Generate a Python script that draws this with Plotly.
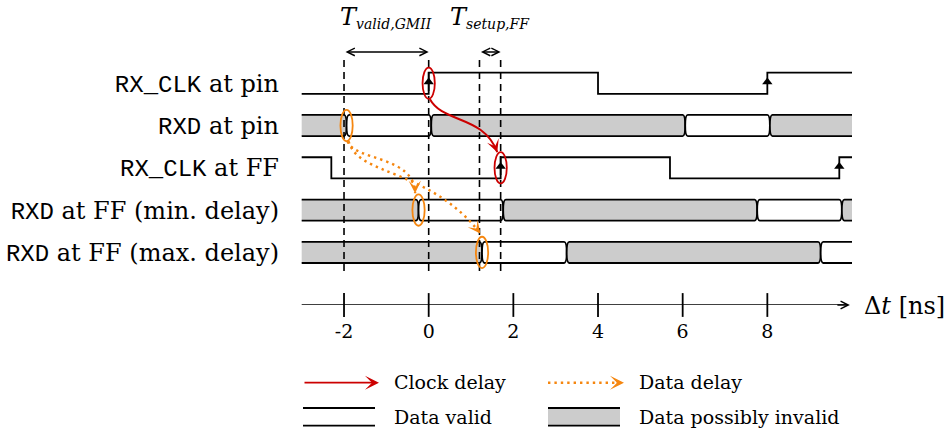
import math
import plotly.graph_objects as go

# ---------------- data ----------------
row_mono = ["RX_CLK", "RXD", "RX_CLK", "RXD", "RXD"]
row_rest = ["at pin", "at pin", "at FF", "at FF (min. delay)", "at FF (max. delay)"]

t_start, t_end = -3.0, 10.0

clk_pin_edges = [0.0, 4.0, 8.0]        # RX_CLK at pin, starts low
clk_pin_init = 0
clk_ff_edges = [-2.3, 1.7, 5.7, 9.7]   # RX_CLK at FF, starts high
clk_ff_init = 1

rxd_pin_trans = [-2.0, 0.0, 6.0, 8.0]  # RXD at pin transitions
rxd_min_trans = [-0.3, 1.7, 7.7, 9.7]  # RXD at FF, min delay
rxd_max_trans = [1.2, 3.2, 9.2]        # RXD at FF, max delay
trans_width = 0.12

ref_times = [-2.0, 0.0, 1.2, 1.7]
dim_names = ["valid,GMII", "setup,FF"]
dim_from = [-2.0, 1.2]
dim_to = [0.0, 1.7]

tick_vals = [-2, 0, 2, 4, 6, 8]
tick_text = ["-2", "0", "2", "4", "6", "8"]

# ---------------- style / layout ----------------
SERIF = "DejaVu Serif"
MONO = "Liberation Mono"
RED = "#cc0000"
ORANGE = "#f5860f"
GRAY = "#cccccc"
LW = 1.8
H = 0.25                     # half band height (rows)
X_RANGE = [-3.04, 10.0]
Y_RANGE = [5.243, -1.967]    # reversed: row 0 on top
AX_ROW = 5.243
W, HGT = 952, 431
ML, MR, MT, MB = 300, 100, 0, 126

def px(X):
    return (X - ML) / (W - ML - MR)

def py(Y):
    return 1 - (Y - MT) / (HGT - MT - MB)

fig = go.Figure()
shapes = []
annotations = []

# ---- clocks ----
def add_clock(edges, init, row):
    xs, ys = [t_start], []
    lvl = init
    ys.append(row - H if lvl else row + H)
    rising = []
    for e in edges:
        lvl = 1 - lvl
        xs.append(e)
        ys.append(row - H if lvl else row + H)
        if lvl == 1:
            rising.append(e)
    xs.append(t_end)
    ys.append(ys[-1])
    fig.add_trace(go.Scatter(x=xs, y=ys, mode="lines", line=dict(color="black", width=LW, shape="hv"),
                             hoverinfo="skip", showlegend=False))
    fig.add_trace(go.Scatter(x=rising, y=[row - 0.03] * len(rising), mode="markers",
                             marker=dict(symbol="triangle-up", size=9, color="black"),
                             hoverinfo="skip", showlegend=False))

add_clock(clk_pin_edges, clk_pin_init, 0)
add_clock(clk_ff_edges, clk_ff_init, 2)

# ---- data bands ----
def add_band(trans, row):
    h = trans_width / 2
    cs = [t + h for t in trans]
    bounds = [t_start] + cs + [t_end]
    top, bot, mid = row - H, row + H, row
    n = len(bounds) - 1
    for i in range(n):
        a, b = bounds[i], bounds[i + 1]
        invalid = (i % 2 == 0)
        if i == 0:
            p = (f"M{a},{top} L{b-h},{top} Q{b},{top} {b},{mid} Q{b},{bot} {b-h},{bot} L{a},{bot}")
        elif i == n - 1:
            p = (f"M{b},{top} L{a+h},{top} Q{a},{top} {a},{mid} Q{a},{bot} {a+h},{bot} L{b},{bot}")
        else:
            p = (f"M{a+h},{top} L{b-h},{top} Q{b},{top} {b},{mid} Q{b},{bot} {b-h},{bot} "
                 f"L{a+h},{bot} Q{a},{bot} {a},{mid} Q{a},{top} {a+h},{top} Z")
        shapes.append(dict(type="path", path=p, xref="x", yref="y",
                           fillcolor=GRAY if invalid else "white",
                           line=dict(color="black", width=LW)))

add_band(rxd_pin_trans, 1)
add_band(rxd_min_trans, 3)
add_band(rxd_max_trans, 4)

# ---- reference dashed lines ----
for t in ref_times:
    shapes.append(dict(type="line", xref="x", yref="y", x0=t, x1=t, y0=-0.55, y1=4.49,
                       line=dict(color="black", width=1.6, dash="7px,5px")))

# ---- dimension arrows + labels ----
for name, a, b in zip(dim_names, dim_from, dim_to):
    annotations.append(dict(x=b, y=-0.74, ax=a, ay=-0.74, xref="x", yref="y", axref="x", ayref="y",
                            text="", showarrow=True, arrowside="end+start", arrowhead=5, startarrowhead=5,
                            arrowsize=1, startarrowsize=1, arrowwidth=1.5, arrowcolor="black"))
    annotations.append(dict(x=(a + b) / 2, y=-1.55, xref="x", yref="y", showarrow=False,
                            text=f"<span style=\"font-size:24px\"><i>T</i></span><sub><i>{name}</i></sub>",
                            font=dict(family=SERIF, size=20, color="black")))

# ---- delay curves ----
def cubic_arrow(t0, r0, t1, r1, s_off, e_off, f1, f2, color, dash):
    sx, sy = t0 + s_off[0], r0 + s_off[1]
    ex, ey = t1 + e_off[0], r1 + e_off[1]
    dt, dr = t1 - t0, r1 - r0
    c1x, c1y = t0 + f1[0] * dt, r0 + f1[1] * dr
    c2x, c2y = t0 + f2[0] * dt, r0 + f2[1] * dr
    shapes.append(dict(type="path", xref="x", yref="y",
                       path=f"M{sx},{sy} C{c1x},{c1y} {c2x},{c2y} {ex},{ey}",
                       line=dict(color=color, width=2 if dash is None else 2.4, dash=dash or "solid")))
    vx, vy = (ex - c2x) * 42.33, (ey - c2y) * 42.3
    n = math.hypot(vx, vy)
    annotations.append(dict(x=ex, y=ey, xref="x", yref="y", ax=-vx / n * 7, ay=-vy / n * 7,
                            text="", showarrow=True, arrowhead=3, arrowsize=1.3, arrowwidth=1.6,
                            arrowcolor=color))

h0 = trans_width / 2
cubic_arrow(clk_pin_edges[0], 0, clk_ff_edges[1], 2, (0.03, 0.38), (-0.08, -0.37),
            (0.2, 0.475), (0.76, 0.375), RED, None)
cubic_arrow(rxd_pin_trans[0] + h0, 1, rxd_min_trans[0] + h0, 3, (0.02, 0.37), (-0.08, -0.4),
            (0.118, 0.425), (0.94, 0.35), ORANGE, "2.4px,4px")
cubic_arrow(rxd_pin_trans[0] + h0, 1, rxd_max_trans[0] + h0, 4, (0.05, 0.37), (-0.04, -0.45),
            (0.078, 0.4), (0.61, 0.333), ORANGE, "2.4px,4px")

# ---- highlight ellipses ----
def ellipse(t, row, color):
    shapes.append(dict(type="circle", xref="x", yref="y", x0=t - 0.145, x1=t + 0.145,
                       y0=row - 0.37, y1=row + 0.37, line=dict(color=color, width=1.8)))

ellipse(clk_pin_edges[0], 0, RED)
ellipse(clk_ff_edges[1], 2, RED)
ellipse(rxd_pin_trans[0] + h0, 1, ORANGE)
ellipse(rxd_min_trans[0] + h0, 3, ORANGE)
ellipse(rxd_max_trans[0] + h0, 4, ORANGE)

# ---- time axis ----
fig.add_trace(go.Scatter(x=[t_start, 9.9], y=[AX_ROW, AX_ROW], mode="lines",
                         line=dict(color="black", width=1.6), cliponaxis=False,
                         hoverinfo="skip", showlegend=False))
fig.add_trace(go.Scatter(x=tick_vals, y=[AX_ROW] * len(tick_vals), mode="markers", cliponaxis=False,
                         marker=dict(symbol="line-ns", size=17, line=dict(color="black", width=1.8)),
                         hoverinfo="skip", showlegend=False))
annotations.append(dict(x=9.95, y=AX_ROW, xref="x", yref="y", ax=-14, ay=0, text="", showarrow=True,
                        arrowhead=5, arrowsize=1, arrowwidth=1.5, arrowcolor="black"))
annotations.append(dict(x=px(862), y=py(305.7), xref="paper", yref="paper", xanchor="left",
                        yanchor="middle", showarrow=False, text="Δ<i>t</i> [ns]",
                        font=dict(family=SERIF, size=24, color="black")))

# ---- legend ----
leg_font = dict(family=SERIF, size=19, color="black")
annotations.append(dict(x=px(379), y=py(382.7), xref="paper", yref="paper", ax=-76, ay=0, text="",
                        showarrow=True, arrowhead=3, arrowsize=1.3, arrowwidth=1.8, arrowcolor=RED))
annotations.append(dict(x=px(391.7), y=py(382), xref="paper", yref="paper", xanchor="left",
                        yanchor="middle", showarrow=False, text="Clock delay", font=leg_font))
shapes.append(dict(type="line", xref="paper", yref="paper", x0=px(548), x1=px(617), y0=py(382.7),
                   y1=py(382.7), line=dict(color=ORANGE, width=2.4, dash="2.4px,4px")))
annotations.append(dict(x=px(624), y=py(382.7), xref="paper", yref="paper", ax=-8, ay=0, text="",
                        showarrow=True, arrowhead=3, arrowsize=1.3, arrowwidth=1.8, arrowcolor=ORANGE))
annotations.append(dict(x=px(636.7), y=py(382), xref="paper", yref="paper", xanchor="left",
                        yanchor="middle", showarrow=False, text="Data delay", font=leg_font))
for Y in (408, 425.7):
    shapes.append(dict(type="line", xref="paper", yref="paper", x0=px(303), x1=px(375), y0=py(Y),
                       y1=py(Y), line=dict(color="black", width=LW)))
annotations.append(dict(x=px(391.7), y=py(416.7), xref="paper", yref="paper", xanchor="left",
                        yanchor="middle", showarrow=False, text="Data valid", font=leg_font))
shapes.append(dict(type="rect", xref="paper", yref="paper", x0=px(548), x1=px(620), y0=py(425.7),
                   y1=py(408), fillcolor=GRAY, line=dict(width=0)))
for Y in (408, 425.7):
    shapes.append(dict(type="line", xref="paper", yref="paper", x0=px(548), x1=px(620), y0=py(Y),
                       y1=py(Y), line=dict(color="black", width=LW)))
annotations.append(dict(x=px(636.7), y=py(416.7), xref="paper", yref="paper", xanchor="left",
                        yanchor="middle", showarrow=False, text="Data possibly invalid", font=leg_font))

row_ticktext = [f"<span style=\"font-family:'{MONO}';font-size:24px\">{m}</span> {r}"
                for m, r in zip(row_mono, row_rest)]

fig.update_layout(
    width=W, height=HGT, margin=dict(l=ML, r=MR, t=MT, b=MB),
    paper_bgcolor="white", plot_bgcolor="white",
    shapes=shapes, annotations=annotations, showlegend=False,
    xaxis=dict(range=X_RANGE, showgrid=False, zeroline=False, showline=False,
               tickmode="array", tickvals=tick_vals, ticktext=tick_text,
               ticks="outside", ticklen=9, tickcolor="rgba(0,0,0,0)",
               tickfont=dict(family=SERIF, size=19, color="black")),
    yaxis=dict(range=Y_RANGE, showgrid=False, zeroline=False, showline=False,
               tickmode="array", tickvals=list(range(5)), ticktext=row_ticktext,
               ticks="", ticklabelstandoff=20,
               tickfont=dict(family=SERIF, size=24, color="black")),
)

fig.write_html("out.html", config={"displayModeBar": False},
               post_script="document.body.style.margin='0';")
